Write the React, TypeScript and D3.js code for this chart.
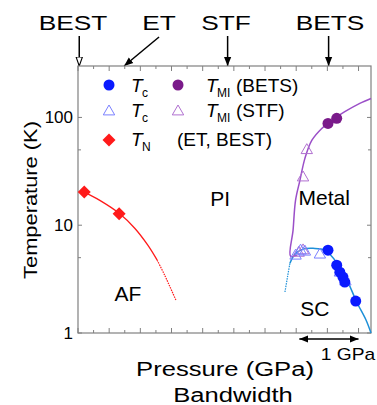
import React from "react";
import * as d3 from "d3";

// ---- data (pressure in GPa relative scale, temperature in K) ----
const tcBETS: [number, number][] = [
  [4.01, 5.87], [4.15, 4.26], [4.2, 3.67], [4.25, 3.3], [4.28, 2.97], [4.455, 1.98],
];
const tcSTF: [number, number][] = [
  [3.49, 5.27], [3.57, 5.87], [3.64, 5.74], [3.88, 5.39], [4.2, 3.67], [4.29, 3.03],
];
const tmiBETS: [number, number][] = [[4.01, 88], [4.15, 98]];
const tmiSTF: [number, number][] = [[3.61, 28], [3.67, 50.2], [3.54, 5.6], [3.61, 5.9]];
const tnET: [number, number][] = [[0.1, 20.3], [0.66, 12.8]];

const tcCurve: [number, number][] = [
  [3.4, 4.45], [3.48, 5.38], [3.61, 6.0], [3.77, 6.1], [3.96, 5.87], [4.17, 4.35],
  [4.33, 2.97], [4.47, 1.94], [4.62, 1.32], [4.7, 1.0],
];
const tcDotted: [number, number][] = [[3.32, 2.4], [3.36, 3.3], [3.4, 4.45]];
const tmiCurve: [number, number][] = [
  [3.52, 5.3], [3.41, 5.15], [3.45, 9.0], [3.49, 17.1], [3.56, 26.1], [3.64, 41.7],
  [3.75, 61.2], [3.91, 79], [4.09, 95.8], [4.28, 113], [4.52, 135], [4.7, 150],
];
const tnCurve: [number, number][] = [
  [0.1, 20.3], [0.35, 17.0], [0.66, 12.9], [0.91, 9.38], [1.12, 6.53], [1.27, 4.74],
];
const tnDotted: [number, number][] = [[1.27, 4.74], [1.39, 3.44], [1.57, 2.02]];

const xMinorTicks = d3.range(0, 4.51, 0.25);
const yMajorTicks = [1, 10, 100];
const yMinorTicks = [5, 50];

const materials = [
  { name: "BEST", x: 0.02, lx: 73, tip: 0.02, slanted: false, hollow: true },
  { name: "ET", x: 1.3, lx: 159, tip: 0.74, slanted: true, hollow: false },
  { name: "STF", x: 2.4, lx: 226, tip: 2.4, slanted: false, hollow: false },
  { name: "BETS", x: 4.02, lx: 330, tip: 4.02, slanted: false, hollow: false },
];

const regionLabels = [
  { text: "PI", x: 2.28, y: 15 },
  { text: "Metal", x: 3.95, y: 15.5 },
  { text: "AF", x: 0.8, y: 2.0 },
  { text: "SC", x: 3.8, y: 1.45 },
];

const FONT = "'Liberation Sans', Arial, sans-serif";

export default function App() {
  const L = 78, R = 371, T = 66, B = 333;
  const x = d3.scaleLinear().domain([0, 4.7]).range([L, R]);
  const y = d3.scaleLog().domain([1, 300]).range([B, T]);
  const line = d3.line<[number, number]>().x((d) => x(d[0])).y((d) => y(d[1])).curve(d3.curveCatmullRom.alpha(0.5));

  const blue = "#0a1aff";
  const lightBlue = "#1e90d8";
  const purple = "#7a1a8a";
  const purpleLine = "#9b4fc8";
  const red = "#ff1a1a";
  const axis = "#808080";

  const tri = (cx: number, cy: number, s: number) =>
    `M${cx},${cy - s} L${cx + s * 0.95},${cy + s * 0.65} L${cx - s * 0.95},${cy + s * 0.65} Z`;
  const diamond = (cx: number, cy: number, s: number) =>
    `M${cx},${cy - s} L${cx + s},${cy} L${cx},${cy + s} L${cx - s},${cy} Z`;

  const stretched = (cx: number, cy: number, sx: number, size: number, s: string, key?: string) => (
    <g key={key} transform={`translate(${cx},${cy}) scale(${sx},1)`}>
      <text x={0} y={0} fontSize={size} textAnchor="middle">{s}</text>
    </g>
  );

  return (
    <svg width={377} height={405} style={{ position: "absolute", left: 0, top: 0, background: "#fff" }} fontFamily={FONT}>
      <defs>
        <marker id="ah" viewBox="0 0 10 10" refX="10" refY="5" markerWidth="6" markerHeight="6" orient="auto-start-reverse">
          <path d="M0,1 L10,5 L0,9 Z" fill="#000" />
        </marker>
        <marker id="ahh" viewBox="0 0 10 10" refX="10" refY="5" markerWidth="6" markerHeight="6" orient="auto">
          <path d="M0,1.5 L10,5 L0,8.5 Z" fill="#fff" stroke="#000" strokeWidth="1.2" />
        </marker>
      </defs>

      {/* top material arrows */}
      {materials.map((m) => (
        <g key={m.name}>
          {stretched(m.lx, 30, 1.25, 21, m.name)}
          <line x1={x(m.x)} y1={m.slanted ? 37 : 36} x2={x(m.tip)} y2={T} stroke="#000" strokeWidth={1.5}
            markerEnd={m.hollow ? "url(#ahh)" : "url(#ah)"} />
        </g>
      ))}

      {/* axes box */}
      <rect x={L} y={T} width={R - L} height={B - T} fill="none" stroke={axis} strokeWidth={1.2} />
      {xMinorTicks.map((t, i) => {
        const len = i % 2 === 0 ? 5 : 3;
        return (
          <g key={"xt" + i}>
            <line x1={x(t)} x2={x(t)} y1={B} y2={B - len} stroke={axis} />
            <line x1={x(t)} x2={x(t)} y1={T} y2={T + len} stroke={axis} />
          </g>
        );
      })}
      {yMajorTicks.map((t) => (
        <g key={"ym" + t}>
          <line x1={L} x2={L + 4} y1={y(t)} y2={y(t)} stroke={axis} />
          <line x1={R} x2={R - 4} y1={y(t)} y2={y(t)} stroke={axis} />
          <text x={L - 5} y={y(t) + 6} fontSize={17} textAnchor="end">{t}</text>
        </g>
      ))}
      {yMinorTicks.map((t) => (
        <g key={"yn" + t}>
          <line x1={L} x2={L + 3} y1={y(t)} y2={y(t)} stroke={axis} />
          <line x1={R} x2={R - 3} y1={y(t)} y2={y(t)} stroke={axis} />
        </g>
      ))}

      {/* curves */}
      <path d={line(tnCurve) || ""} fill="none" stroke={red} strokeWidth={1.3} />
      <path d={line(tnDotted) || ""} fill="none" stroke={red} strokeWidth={1.2} strokeDasharray="1.5,1" />
      <path d={line(tcDotted) || ""} fill="none" stroke={lightBlue} strokeWidth={1.2} strokeDasharray="1.5,1" />
      <path d={line(tcCurve) || ""} fill="none" stroke={lightBlue} strokeWidth={1.5} />
      <path d={line(tmiCurve) || ""} fill="none" stroke={purpleLine} strokeWidth={1.5} />

      {/* markers */}
      {tnET.map((d, i) => (
        <path key={"tn" + i} d={diamond(x(d[0]), y(d[1]), 6.5)} fill={red} />
      ))}
      {tmiSTF.map((d, i) => (
        <path key={"ms" + i} d={tri(x(d[0]), y(d[1]), 6)} fill="none" stroke="#b070d0" strokeWidth={1} />
      ))}
      {tcSTF.map((d, i) => (
        <path key={"cs" + i} d={tri(x(d[0]), y(d[1]), 6)} fill="none" stroke="#7a80ff" strokeWidth={1} />
      ))}
      {tmiBETS.map((d, i) => (
        <circle key={"mb" + i} cx={x(d[0])} cy={y(d[1])} r={5.5} fill={purple} />
      ))}
      {tcBETS.map((d, i) => (
        <circle key={"cb" + i} cx={x(d[0])} cy={y(d[1])} r={5.5} fill={blue} />
      ))}

      {/* legend */}
      <g fontSize={19}>
        <circle cx={109} cy={85} r={5.5} fill={blue} />
        <text x={131} y={92} fontStyle="italic">T</text>
        <text x={142} y={97} fontSize={12}>c</text>
        <circle cx={178} cy={85} r={5.5} fill={purple} />
        <text x={206} y={92} fontStyle="italic">T</text>
        <text x={217} y={97} fontSize={12}>MI</text>
        <text x={236} y={92}>(BETS)</text>

        <path d={tri(109, 111, 6)} fill="none" stroke="#7a80ff" strokeWidth={1} />
        <text x={131} y={117} fontStyle="italic">T</text>
        <text x={142} y={122} fontSize={12}>c</text>
        <path d={tri(178, 111, 6)} fill="none" stroke="#b070d0" strokeWidth={1} />
        <text x={206} y={117} fontStyle="italic">T</text>
        <text x={217} y={122} fontSize={12}>MI</text>
        <text x={236} y={117}>(STF)</text>

        <path d={diamond(109, 140, 6.5)} fill={red} />
        <text x={131} y={146} fontStyle="italic">T</text>
        <text x={142} y={151} fontSize={12}>N</text>
        <text x={177} y={146}>(ET, BEST)</text>
      </g>

      {/* region labels */}
      {regionLabels.map((r) => (
        <text key={r.text} x={x(r.x)} y={y(r.y)} fontSize={21} textAnchor="middle">{r.text}</text>
      ))}

      {/* 1 GPa scale arrow */}
      <line x1={x(3.55)} x2={x(4.5)} y1={339} y2={339} stroke="#000" strokeWidth={1.5} markerStart="url(#ah)" markerEnd="url(#ah)" />
      {stretched(348, 360, 1.2, 16, "1 GPa")}

      {/* axis titles */}
      {stretched(225, 376, 1.22, 21, "Pressure (GPa)")}
      {stretched(233, 402, 1.22, 21, "Bandwidth")}
      <g transform="translate(37,200) rotate(-90) scale(1.15,1)">
        <text x={0} y={0} fontSize={19} textAnchor="middle">Temperature (K)</text>
      </g>
    </svg>
  );
}
